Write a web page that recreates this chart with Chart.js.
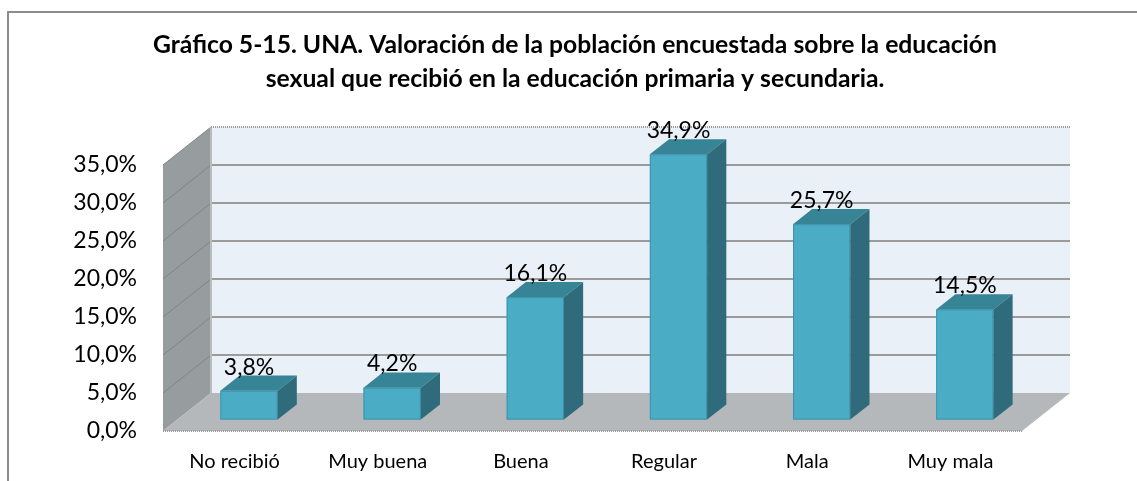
<!DOCTYPE html>
<html>
<head>
<meta charset="utf-8">
<script src="https://cdn.jsdelivr.net/npm/chart.js@4"></script>
<style>
  body { margin: 0; background: #fff; }
  #caja { position: relative; width: 1137px; height: 481px; overflow: hidden; }
  #marco { position: absolute; left: 7px; top: 11px; width: 1200px; height: 600px;
           border-top: 2px solid #8c8c8c; border-left: 2px solid #8c8c8c; pointer-events: none; }
</style>
</head>
<body>
<div id="caja">
  <canvas id="valoracion" width="1137" height="481"></canvas>
  <div id="marco"></div>
</div>
<script>
// datos
let categorias  = ['No recibió', 'Muy buena', 'Buena', 'Regular', 'Mala', 'Muy mala'];
let porcentajes = [3.8, 4.2, 16.1, 34.9, 25.7, 14.5];
let titulo      = ['Gráfico 5-15. UNA. Valoración de la población encuestada sobre la educación',
                   'sexual que recibió en la educación primaria y secundaria.'];
let ejeY        = { min: 0, max: 35, paso: 5 };

// profundidad del efecto 3D (px)
const DX = 48, DY = 38;
const Z1 = 0.3, Z2 = 0.7;

function fmt(v){
    return v.toFixed(1).replace('.', ',') + '%';
}

function poly(ctx, pts, fill){
    ctx.beginPath();
    ctx.moveTo(pts[0][0], pts[0][1]);
    for (let i = 1; i < pts.length; i++) ctx.lineTo(pts[i][0], pts[i][1]);
    ctx.closePath();
    ctx.fillStyle = fill;
    ctx.fill();
}

const grafico3d = {
    id: 'grafico3d',
    beforeDatasetsDraw(chart){
        const ctx = chart.ctx;
        const a = chart.chartArea;
        const y = chart.scales.y;
        const L = a.left, R = a.right, T = a.top, B = a.bottom;
        ctx.save();
        // pared del fondo
        ctx.fillStyle = '#e9f0f7';
        ctx.fillRect(L + DX, T - DY, R - L, B - T);
        // pared izquierda
        poly(ctx, [[L, T], [L + DX, T - DY], [L + DX, B - DY], [L, B]], '#979c9e');
        // piso
        poly(ctx, [[L, B], [L + DX, B - DY], [R + DX, B - DY], [R, B]], '#b4b8bb');

        // líneas de división
        y.ticks.forEach(t => {
            const py = y.getPixelForValue(t.value);
            if (t.value > ejeY.min && t.value < ejeY.max){
                ctx.strokeStyle = '#9b9b9b';
                ctx.lineWidth = 2;
                ctx.beginPath();
                ctx.moveTo(L + DX, py - DY);
                ctx.lineTo(R + DX, py - DY);
                ctx.stroke();
            }
            if (t.value > ejeY.min){
                ctx.strokeStyle = '#7f8487';
                ctx.lineWidth = 1;
                ctx.beginPath();
                ctx.moveTo(L, py);
                ctx.lineTo(L + DX, py - DY);
                ctx.stroke();
            }
        });
        // esquina trasera
        ctx.strokeStyle = '#b9bdbf';
        ctx.lineWidth = 2;
        ctx.beginPath();
        ctx.moveTo(L + DX, T - DY);
        ctx.lineTo(L + DX, B - DY);
        ctx.stroke();
        // bordes punteados
        ctx.strokeStyle = '#9a9a9a';
        ctx.lineWidth = 2;
        ctx.setLineDash([1, 1]);
        ctx.beginPath();
        ctx.moveTo(L + DX, T - DY);
        ctx.lineTo(R + DX, T - DY);
        ctx.moveTo(L, B);
        ctx.lineTo(R, B);
        ctx.stroke();
        ctx.setLineDash([]);
        ctx.restore();
    },
    afterDatasetsDraw(chart){
        const ctx = chart.ctx;
        const meta = chart.getDatasetMeta(0);
        ctx.save();
        meta.data.forEach((bar, i) => {
            const w = bar.width;
            const x0 = bar.x - w / 2 + DX * Z1;
            const x1 = x0 + w;
            const yt = bar.y - DY * Z1;
            const yb = bar.base - DY * Z1;
            const ox = DX * (Z2 - Z1), oy = DY * (Z2 - Z1);
            // cara frontal
            poly(ctx, [[x0, yt], [x1, yt], [x1, yb], [x0, yb]], '#4bacc6');
            ctx.strokeStyle = '#3d93aa';
            ctx.lineWidth = 1;
            ctx.strokeRect(x0 + 0.5, yt + 0.5, w - 1, yb - yt - 1);
            // cara superior
            poly(ctx, [[x0, yt], [x0 + ox, yt - oy], [x1 + ox, yt - oy], [x1, yt]], '#378496');
            // cara lateral
            poly(ctx, [[x1, yt], [x1 + ox, yt - oy], [x1 + ox, yb - oy], [x1, yb]], '#2f6b7b');

            // etiqueta
            ctx.fillStyle = '#000';
            ctx.font = '23px Lato';
            ctx.textAlign = 'center';
            ctx.textBaseline = 'alphabetic';
            ctx.fillText(fmt(porcentajes[i]), (x0 + x1) / 2, bar.y - DY * Z2 - 1);
        });
        ctx.restore();
    },
    afterDraw(chart){
        // título en dos líneas
        const ctx = chart.ctx;
        ctx.save();
        ctx.fillStyle = '#000';
        ctx.font = 'bold 24.7px Lato';
        ctx.textAlign = 'center';
        ctx.textBaseline = 'middle';
        ctx.fillText(titulo[0], 575, 45);
        ctx.fillText(titulo[1], 575, 79);
        ctx.restore();
    }
};

const ctx = document.getElementById('valoracion').getContext('2d');
const chart = new Chart(ctx, {
    type: 'bar',
    data: {
        labels: categorias,
        datasets: [{
            label: 'Valoración',
            data: porcentajes,
            backgroundColor: 'rgba(0,0,0,0)',
            borderWidth: 0,
            barPercentage: 0.4,
            categoryPercentage: 1
        }]
    },
    options: {
        responsive: false,
        animation: false,
        layout: { padding: { left: 0, right: 115, top: 165, bottom: 0 } },
        plugins: {
            legend: { display: false },
            tooltip: { enabled: false },
            title: { display: false }
        },
        scales: {
            x: {
                grid: { display: false, drawTicks: false },
                border: { display: false },
                ticks: { color: '#000', font: { family: 'Lato', size: 20 }, padding: 19, maxRotation: 0 },
                afterFit: s => { s.height = 50; }
            },
            y: {
                min: ejeY.min,
                max: ejeY.max,
                grid: { display: false, drawTicks: false },
                border: { display: false },
                ticks: {
                    stepSize: ejeY.paso,
                    color: '#000',
                    font: { family: 'Lato', size: 23 },
                    padding: 26,
                    callback: v => fmt(v)
                },
                afterFit: s => { s.width = 163; }
            }
        }
    },
    plugins: [grafico3d]
});
</script>
</body>
</html>
